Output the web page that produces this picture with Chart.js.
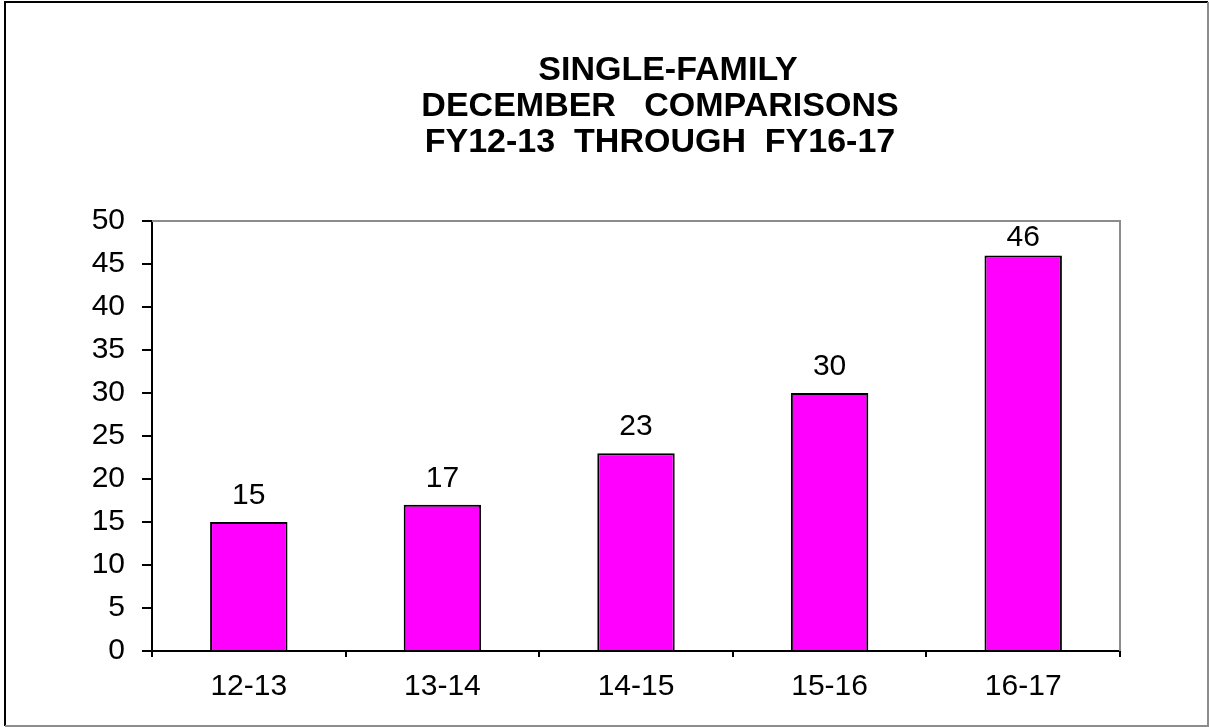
<!DOCTYPE html>
<html>
<head>
<meta charset="utf-8">
<script src="https://cdn.jsdelivr.net/npm/chart.js@4.4.0/dist/chart.umd.min.js"></script>
<style>
  html, body { margin: 0; padding: 0; background: #fff; }
  #wrap { width: 1209px; height: 727px; position: relative; }
</style>
</head>
<body>
<div id="wrap"><canvas id="c" width="1209" height="727"></canvas></div>
<script>
const categories = ['12-13', '13-14', '14-15', '15-16', '16-17'];
const values = [15, 17, 23, 30, 46];
const titleLines = ['SINGLE-FAMILY', 'DECEMBER   COMPARISONS', 'FY12-13  THROUGH  FY16-17'];
const yMin = 0, yMax = 50, yStep = 5;

const FONT = '"Liberation Sans", Arial, Helvetica, sans-serif';

const framePlugin = {
  id: 'frame',
  beforeDraw(chart) {
    const ctx = chart.ctx;
    ctx.save();
    ctx.fillStyle = '#fff';
    ctx.fillRect(0, 0, chart.width, chart.height);
    ctx.lineWidth = 2;
    ctx.strokeStyle = '#000';
    ctx.beginPath();
    ctx.moveTo(5, 726); ctx.lineTo(5, 2); ctx.lineTo(1208, 2);
    ctx.stroke();
    ctx.strokeStyle = '#8c8c8c';
    ctx.beginPath();
    ctx.moveTo(1208, 2); ctx.lineTo(1208, 726); ctx.lineTo(5, 726);
    ctx.stroke();
    ctx.fillStyle = '#000';
    ctx.font = 'bold 34px ' + FONT;
    ctx.textAlign = 'center';
    ctx.textBaseline = 'middle';
    const ys = [71, 107, 143];
    const xs = [668, 660, 660];
    titleLines.forEach((t, i) => ctx.fillText(t, xs[i], ys[i]));
    ctx.restore();
  },
  afterDatasetsDraw(chart) {
    const ctx = chart.ctx;
    const a = chart.chartArea;
    ctx.save();
    ctx.strokeStyle = '#8c8c8c';
    ctx.lineWidth = 2;
    ctx.beginPath();
    ctx.moveTo(a.left, a.top); ctx.lineTo(a.right, a.top); ctx.lineTo(a.right, a.bottom);
    ctx.stroke();
    const meta = chart.getDatasetMeta(0);
    ctx.fillStyle = '#000';
    ctx.font = '30px ' + FONT;
    ctx.textAlign = 'center';
    ctx.textBaseline = 'alphabetic';
    meta.data.forEach((bar, i) => {
      let base = bar.y - 18;
      const minBase = a.top + 25;
      if (base < minBase) base = minBase;
      ctx.fillText(String(values[i]), bar.x, base);
    });
    ctx.restore();
  }
};

new Chart(document.getElementById('c'), {
  type: 'bar',
  data: {
    labels: categories,
    datasets: [{
      data: values,
      backgroundColor: '#ff00ff',
      borderColor: '#000',
      borderWidth: 2,
      borderSkipped: 'bottom',
      barPercentage: 0.4,
      categoryPercentage: 1.0
    }]
  },
  options: {
    responsive: false,
    animation: false,
    devicePixelRatio: 1,
    layout: { padding: { top: 221, right: 89, bottom: 16, left: 0 } },
    plugins: { legend: { display: false }, title: { display: false }, tooltip: { enabled: false } },
    scales: {
      x: {
        offset: true,
        grid: { display: true, offset: true, drawOnChartArea: false, drawTicks: true, tickLength: 6, color: '#000', lineWidth: 2 },
        border: { display: true, color: '#000', width: 2 },
        ticks: { color: '#000', font: { family: FONT, size: 30 }, padding: 12, maxRotation: 0 },
        afterFit(s) { s.height = 60; }
      },
      y: {
        min: yMin, max: yMax,
        grid: { display: true, drawOnChartArea: false, drawTicks: true, tickLength: 10, color: '#000', lineWidth: 2 },
        border: { display: true, color: '#000', width: 2 },
        ticks: { stepSize: yStep, color: '#000', font: { family: FONT, size: 30 }, padding: 17 },
        afterFit(s) { s.width = 152; }
      }
    }
  },
  plugins: [framePlugin]
});
</script>
</body>
</html>
